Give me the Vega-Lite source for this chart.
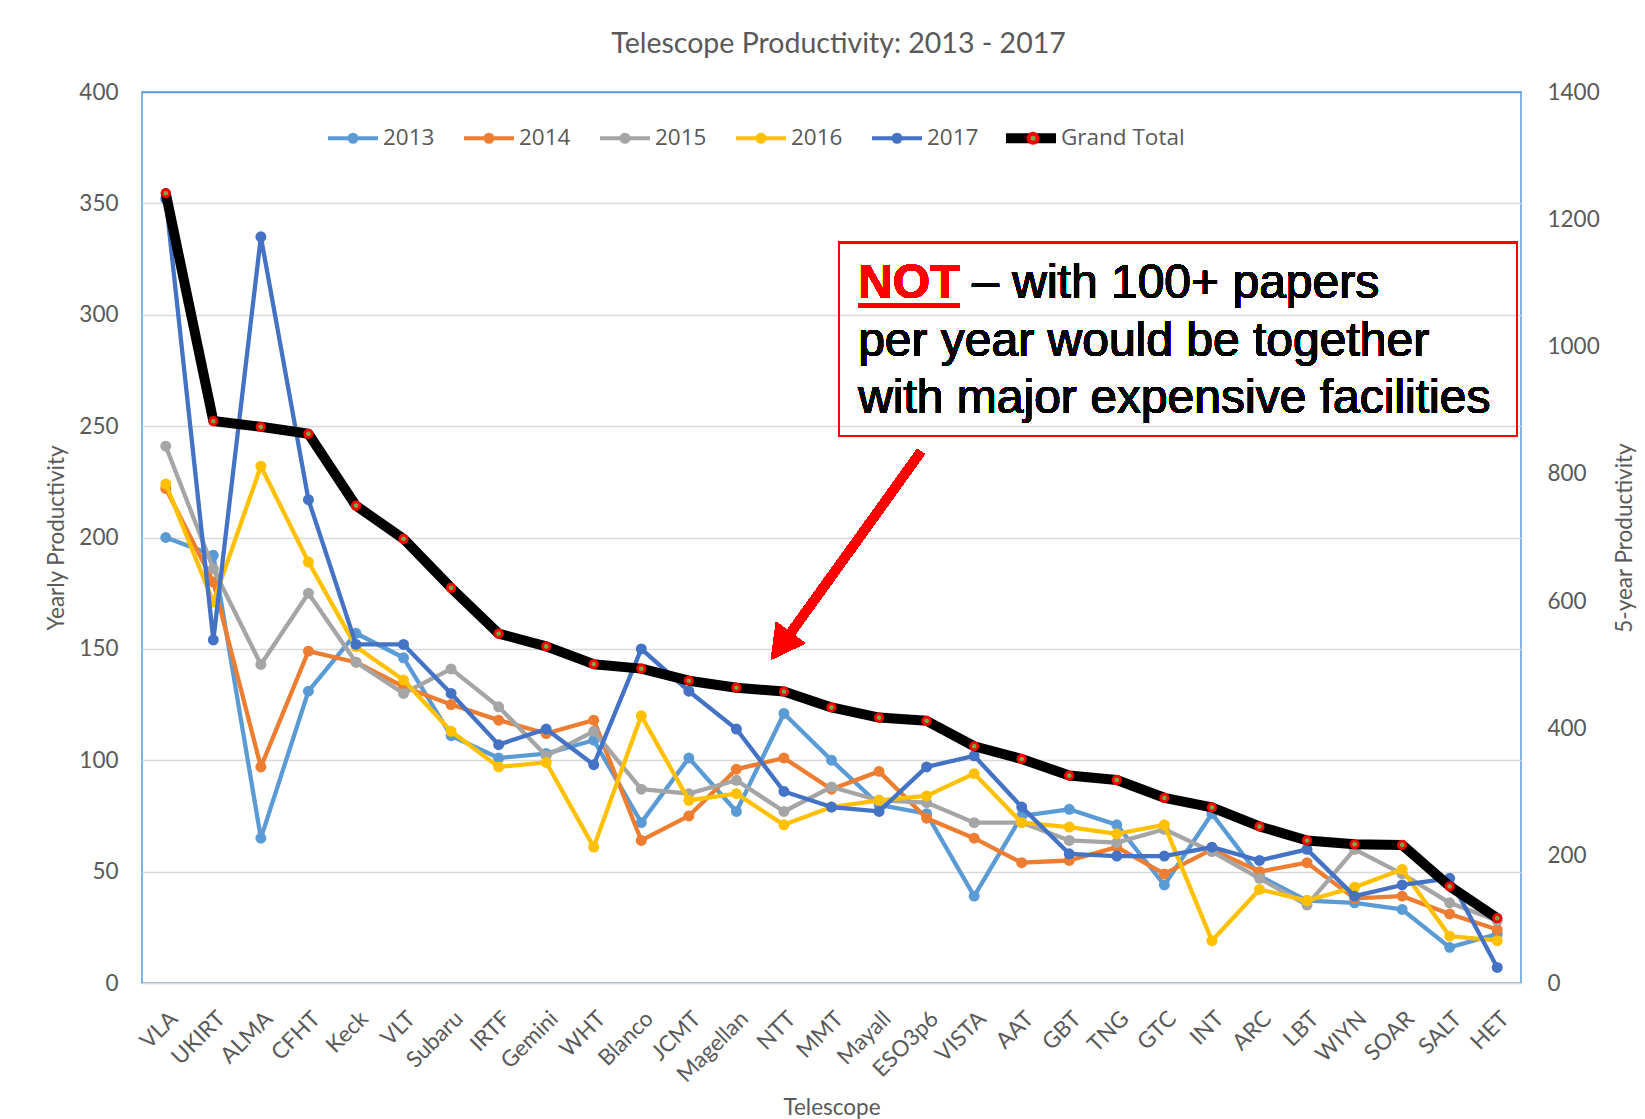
{
  "$schema": "https://vega.github.io/schema/vega-lite/v6.json",
  "width": 1379,
  "height": 891,
  "autosize": {"type": "none"},
  "padding": {"left": 142, "top": 92, "right": 124, "bottom": 136},
  "background": "white",
  "title": {"text": "Telescope Productivity: 2013 - 2017", "font": "Lato", "fontSize": 28.5, "fontWeight": "normal", "color": "#595959", "anchor": "middle", "offset": 23, "dx": 7},
  "config": {
    "font": "Lato",
    "view": {"stroke": "#5B9BD5", "strokeWidth": 1.5}
  },
  "data": {"values": [
    {"Telescope":"VLA","Series":"2013","Value":200},{"Telescope":"VLA","Series":"2014","Value":222},{"Telescope":"VLA","Series":"2015","Value":241},{"Telescope":"VLA","Series":"2016","Value":224},{"Telescope":"VLA","Series":"2017","Value":352},{"Telescope":"VLA","Series":"Grand Total","Value":1241},
    {"Telescope":"UKIRT","Series":"2013","Value":192},{"Telescope":"UKIRT","Series":"2014","Value":180},{"Telescope":"UKIRT","Series":"2015","Value":186},{"Telescope":"UKIRT","Series":"2016","Value":171},{"Telescope":"UKIRT","Series":"2017","Value":154},{"Telescope":"UKIRT","Series":"Grand Total","Value":883},
    {"Telescope":"ALMA","Series":"2013","Value":65},{"Telescope":"ALMA","Series":"2014","Value":97},{"Telescope":"ALMA","Series":"2015","Value":143},{"Telescope":"ALMA","Series":"2016","Value":232},{"Telescope":"ALMA","Series":"2017","Value":335},{"Telescope":"ALMA","Series":"Grand Total","Value":874},
    {"Telescope":"CFHT","Series":"2013","Value":131},{"Telescope":"CFHT","Series":"2014","Value":149},{"Telescope":"CFHT","Series":"2015","Value":175},{"Telescope":"CFHT","Series":"2016","Value":189},{"Telescope":"CFHT","Series":"2017","Value":217},{"Telescope":"CFHT","Series":"Grand Total","Value":863},
    {"Telescope":"Keck","Series":"2013","Value":157},{"Telescope":"Keck","Series":"2014","Value":144},{"Telescope":"Keck","Series":"2015","Value":144},{"Telescope":"Keck","Series":"2016","Value":151},{"Telescope":"Keck","Series":"2017","Value":152},{"Telescope":"Keck","Series":"Grand Total","Value":750},
    {"Telescope":"VLT","Series":"2013","Value":146},{"Telescope":"VLT","Series":"2014","Value":133},{"Telescope":"VLT","Series":"2015","Value":130},{"Telescope":"VLT","Series":"2016","Value":136},{"Telescope":"VLT","Series":"2017","Value":152},{"Telescope":"VLT","Series":"Grand Total","Value":698},
    {"Telescope":"Subaru","Series":"2013","Value":111},{"Telescope":"Subaru","Series":"2014","Value":125},{"Telescope":"Subaru","Series":"2015","Value":141},{"Telescope":"Subaru","Series":"2016","Value":113},{"Telescope":"Subaru","Series":"2017","Value":130},{"Telescope":"Subaru","Series":"Grand Total","Value":621},
    {"Telescope":"IRTF","Series":"2013","Value":101},{"Telescope":"IRTF","Series":"2014","Value":118},{"Telescope":"IRTF","Series":"2015","Value":124},{"Telescope":"IRTF","Series":"2016","Value":97},{"Telescope":"IRTF","Series":"2017","Value":107},{"Telescope":"IRTF","Series":"Grand Total","Value":549},
    {"Telescope":"Gemini","Series":"2013","Value":103},{"Telescope":"Gemini","Series":"2014","Value":112},{"Telescope":"Gemini","Series":"2015","Value":102},{"Telescope":"Gemini","Series":"2016","Value":99},{"Telescope":"Gemini","Series":"2017","Value":114},{"Telescope":"Gemini","Series":"Grand Total","Value":529},
    {"Telescope":"WHT","Series":"2013","Value":109},{"Telescope":"WHT","Series":"2014","Value":118},{"Telescope":"WHT","Series":"2015","Value":113},{"Telescope":"WHT","Series":"2016","Value":61},{"Telescope":"WHT","Series":"2017","Value":98},{"Telescope":"WHT","Series":"Grand Total","Value":501},
    {"Telescope":"Blanco","Series":"2013","Value":72},{"Telescope":"Blanco","Series":"2014","Value":64},{"Telescope":"Blanco","Series":"2015","Value":87},{"Telescope":"Blanco","Series":"2016","Value":120},{"Telescope":"Blanco","Series":"2017","Value":150},{"Telescope":"Blanco","Series":"Grand Total","Value":494},
    {"Telescope":"JCMT","Series":"2013","Value":101},{"Telescope":"JCMT","Series":"2014","Value":75},{"Telescope":"JCMT","Series":"2015","Value":85},{"Telescope":"JCMT","Series":"2016","Value":82},{"Telescope":"JCMT","Series":"2017","Value":131},{"Telescope":"JCMT","Series":"Grand Total","Value":475},
    {"Telescope":"Magellan","Series":"2013","Value":77},{"Telescope":"Magellan","Series":"2014","Value":96},{"Telescope":"Magellan","Series":"2015","Value":91},{"Telescope":"Magellan","Series":"2016","Value":85},{"Telescope":"Magellan","Series":"2017","Value":114},{"Telescope":"Magellan","Series":"Grand Total","Value":464},
    {"Telescope":"NTT","Series":"2013","Value":121},{"Telescope":"NTT","Series":"2014","Value":101},{"Telescope":"NTT","Series":"2015","Value":77},{"Telescope":"NTT","Series":"2016","Value":71},{"Telescope":"NTT","Series":"2017","Value":86},{"Telescope":"NTT","Series":"Grand Total","Value":458},
    {"Telescope":"MMT","Series":"2013","Value":100},{"Telescope":"MMT","Series":"2014","Value":87},{"Telescope":"MMT","Series":"2015","Value":88},{"Telescope":"MMT","Series":"2016","Value":79},{"Telescope":"MMT","Series":"2017","Value":79},{"Telescope":"MMT","Series":"Grand Total","Value":433},
    {"Telescope":"Mayall","Series":"2013","Value":80},{"Telescope":"Mayall","Series":"2014","Value":95},{"Telescope":"Mayall","Series":"2015","Value":82},{"Telescope":"Mayall","Series":"2016","Value":82},{"Telescope":"Mayall","Series":"2017","Value":77},{"Telescope":"Mayall","Series":"Grand Total","Value":417},
    {"Telescope":"ESO3p6","Series":"2013","Value":76},{"Telescope":"ESO3p6","Series":"2014","Value":74},{"Telescope":"ESO3p6","Series":"2015","Value":81},{"Telescope":"ESO3p6","Series":"2016","Value":84},{"Telescope":"ESO3p6","Series":"2017","Value":97},{"Telescope":"ESO3p6","Series":"Grand Total","Value":412},
    {"Telescope":"VISTA","Series":"2013","Value":39},{"Telescope":"VISTA","Series":"2014","Value":65},{"Telescope":"VISTA","Series":"2015","Value":72},{"Telescope":"VISTA","Series":"2016","Value":94},{"Telescope":"VISTA","Series":"2017","Value":102},{"Telescope":"VISTA","Series":"Grand Total","Value":372},
    {"Telescope":"AAT","Series":"2013","Value":75},{"Telescope":"AAT","Series":"2014","Value":54},{"Telescope":"AAT","Series":"2015","Value":72},{"Telescope":"AAT","Series":"2016","Value":72},{"Telescope":"AAT","Series":"2017","Value":79},{"Telescope":"AAT","Series":"Grand Total","Value":352},
    {"Telescope":"GBT","Series":"2013","Value":78},{"Telescope":"GBT","Series":"2014","Value":55},{"Telescope":"GBT","Series":"2015","Value":64},{"Telescope":"GBT","Series":"2016","Value":70},{"Telescope":"GBT","Series":"2017","Value":58},{"Telescope":"GBT","Series":"Grand Total","Value":326},
    {"Telescope":"TNG","Series":"2013","Value":71},{"Telescope":"TNG","Series":"2014","Value":61},{"Telescope":"TNG","Series":"2015","Value":63},{"Telescope":"TNG","Series":"2016","Value":67},{"Telescope":"TNG","Series":"2017","Value":57},{"Telescope":"TNG","Series":"Grand Total","Value":319},
    {"Telescope":"GTC","Series":"2013","Value":44},{"Telescope":"GTC","Series":"2014","Value":49},{"Telescope":"GTC","Series":"2015","Value":69},{"Telescope":"GTC","Series":"2016","Value":71},{"Telescope":"GTC","Series":"2017","Value":57},{"Telescope":"GTC","Series":"Grand Total","Value":291},
    {"Telescope":"INT","Series":"2013","Value":76},{"Telescope":"INT","Series":"2014","Value":60},{"Telescope":"INT","Series":"2015","Value":59},{"Telescope":"INT","Series":"2016","Value":19},{"Telescope":"INT","Series":"2017","Value":61},{"Telescope":"INT","Series":"Grand Total","Value":276},
    {"Telescope":"ARC","Series":"2013","Value":48},{"Telescope":"ARC","Series":"2014","Value":50},{"Telescope":"ARC","Series":"2015","Value":47},{"Telescope":"ARC","Series":"2016","Value":42},{"Telescope":"ARC","Series":"2017","Value":55},{"Telescope":"ARC","Series":"Grand Total","Value":246},
    {"Telescope":"LBT","Series":"2013","Value":37},{"Telescope":"LBT","Series":"2014","Value":54},{"Telescope":"LBT","Series":"2015","Value":35},{"Telescope":"LBT","Series":"2016","Value":37},{"Telescope":"LBT","Series":"2017","Value":60},{"Telescope":"LBT","Series":"Grand Total","Value":224},
    {"Telescope":"WIYN","Series":"2013","Value":36},{"Telescope":"WIYN","Series":"2014","Value":38},{"Telescope":"WIYN","Series":"2015","Value":60},{"Telescope":"WIYN","Series":"2016","Value":43},{"Telescope":"WIYN","Series":"2017","Value":39},{"Telescope":"WIYN","Series":"Grand Total","Value":218},
    {"Telescope":"SOAR","Series":"2013","Value":33},{"Telescope":"SOAR","Series":"2014","Value":39},{"Telescope":"SOAR","Series":"2015","Value":49},{"Telescope":"SOAR","Series":"2016","Value":51},{"Telescope":"SOAR","Series":"2017","Value":44},{"Telescope":"SOAR","Series":"Grand Total","Value":217},
    {"Telescope":"SALT","Series":"2013","Value":16},{"Telescope":"SALT","Series":"2014","Value":31},{"Telescope":"SALT","Series":"2015","Value":36},{"Telescope":"SALT","Series":"2016","Value":21},{"Telescope":"SALT","Series":"2017","Value":47},{"Telescope":"SALT","Series":"Grand Total","Value":152},
    {"Telescope":"HET","Series":"2013","Value":22},{"Telescope":"HET","Series":"2014","Value":24},{"Telescope":"HET","Series":"2015","Value":28},{"Telescope":"HET","Series":"2016","Value":19},{"Telescope":"HET","Series":"2017","Value":7},{"Telescope":"HET","Series":"Grand Total","Value":102}
  ]},
  "layer": [
    {
      "encoding": {
        "x": {"field": "Telescope", "type": "nominal",
          "scale": {"domain": ["VLA","UKIRT","ALMA","CFHT","Keck","VLT","Subaru","IRTF","Gemini","WHT","Blanco","JCMT","Magellan","NTT","MMT","Mayall","ESO3p6","VISTA","AAT","GBT","TNG","GTC","INT","ARC","LBT","WIYN","SOAR","SALT","HET"]},
          "axis": {"labelAngle": -45, "labelFont": "Lato", "labelFontSize": 22.5, "labelColor": "#595959", "ticks": false, "domain": true, "domainColor": "#D9D9D9", "domainWidth": 1.5, "labelPadding": 24, "title": "Telescope", "titleFont": "Lato", "titleFontSize": 22.5, "titleFontWeight": "normal", "titleColor": "#595959", "titlePadding": 10}},
        "y": {"field": "Value", "type": "quantitative",
          "scale": {"domain": [0, 400], "nice": false},
          "axis": {"orient": "left", "values": [0,50,100,150,200,250,300,350,400], "grid": true, "gridColor": {"condition": {"test": "datum.value === 400", "value": "#5B9BD5"}, "value": "#D9D9D9"}, "gridWidth": 1.5, "domain": false, "ticks": false, "labelFont": "Lato", "labelFontSize": 22.5, "labelColor": "#595959", "labelPadding": 24, "title": "Yearly Productivity", "titleFont": "Lato", "titleFontSize": 22.5, "titleFontWeight": "normal", "titleColor": "#595959", "titlePadding": 10}},
        "color": {"field": "Series", "type": "nominal",
          "scale": {"domain": ["2013","2014","2015","2016","2017","Grand Total"], "range": ["#5B9BD5","#ED7D31","#A5A5A5","#FFC000","#4472C4","#000000"]},
          "legend": {"orient": "none", "legendX": 184, "legendY": 19, "direction": "horizontal", "title": null, "padding": 0, "zindex": 1,
            "symbolSize": 2500, "symbolStrokeWidth": 4, "labelFont": "Open Sans", "labelFontSize": 22.5, "labelColor": "#595959", "labelOffset": 3, "columnPadding": 21,
            "encode": {"symbols": {"update": {
              "shape": {"signal": "datum.value === 'Grand Total' ? 'M-0.92,-0.12L0.92,-0.12L0.92,0.12L-0.92,0.12Z' : 'M-1,0L1,0M-0.14,0A0.14,0.14 0 1,0 0.14,0A0.14,0.14 0 1,0 -0.14,0Z'"},
              "size": {"value": 2500},
              "strokeWidth": {"value": 4},
              "stroke": {"signal": "scale('color', datum.value)"},
              "fill": {"signal": "scale('color', datum.value)"},
              "opacity": {"value": 1}}}}}}
      },
      "layer": [
        {"transform": [{"filter": {"field": "Series", "equal": "2013"}}], "layer": [
          {"mark": {"type": "line", "strokeWidth": 4.3, "strokeJoin": "round"}},
          {"mark": {"type": "point", "filled": true, "size": 120, "opacity": 1}}]},
        {"transform": [{"filter": {"field": "Series", "equal": "2014"}}], "layer": [
          {"mark": {"type": "line", "strokeWidth": 4.3, "strokeJoin": "round"}},
          {"mark": {"type": "point", "filled": true, "size": 120, "opacity": 1}}]},
        {"transform": [{"filter": {"field": "Series", "equal": "2015"}}], "layer": [
          {"mark": {"type": "line", "strokeWidth": 4.3, "strokeJoin": "round"}},
          {"mark": {"type": "point", "filled": true, "size": 120, "opacity": 1}}]},
        {"transform": [{"filter": {"field": "Series", "equal": "2016"}}], "layer": [
          {"mark": {"type": "line", "strokeWidth": 4.3, "strokeJoin": "round"}},
          {"mark": {"type": "point", "filled": true, "size": 120, "opacity": 1}}]},
        {"transform": [{"filter": {"field": "Series", "equal": "2017"}}], "layer": [
          {"mark": {"type": "line", "strokeWidth": 4.3, "strokeJoin": "round"}},
          {"mark": {"type": "point", "filled": true, "size": 120, "opacity": 1}}]}
      ]
    },
    {
      "transform": [{"filter": {"field": "Series", "equal": "Grand Total"}}],
      "encoding": {
        "x": {"field": "Telescope", "type": "nominal",
          "scale": {"domain": ["VLA","UKIRT","ALMA","CFHT","Keck","VLT","Subaru","IRTF","Gemini","WHT","Blanco","JCMT","Magellan","NTT","MMT","Mayall","ESO3p6","VISTA","AAT","GBT","TNG","GTC","INT","ARC","LBT","WIYN","SOAR","SALT","HET"]},
          "axis": null},
        "y": {"field": "Value", "type": "quantitative",
          "scale": {"domain": [0, 1400], "nice": false},
          "axis": {"orient": "right", "values": [0,200,400,600,800,1000,1200,1400], "format": "d", "grid": false, "domain": false, "ticks": false, "labelFont": "Lato", "labelFontSize": 22.5, "labelColor": "#595959", "labelPadding": 26, "title": "5-year Productivity", "titleAngle": 270, "titleFont": "Lato", "titleFontSize": 22.5, "titleFontWeight": "normal", "titleColor": "#595959", "titlePadding": 37}}
      },
      "layer": [
        {"mark": {"type": "line", "strokeWidth": 10, "strokeJoin": "round", "strokeCap": "round"},
         "encoding": {"color": {"field": "Series", "type": "nominal"}}},
        {"mark": {"type": "point", "filled": true, "fill": "#70AD47", "stroke": "#FF0000", "strokeWidth": 2.8, "size": 1700, "opacity": 1},
         "encoding": {"shape": {"field": "Series", "type": "nominal",
           "scale": {"domain": ["2013","2014","2015","2016","2017","Grand Total","zz"], "range": ["M-1,0M1,0","M-1,0M1,0","M-1,0M1,0","M-1,0M1,0","M-1,0M1,0","M-1,0M1,0M-0.18,0A0.18,0.18 0 1,0 0.18,0A0.18,0.18 0 1,0 -0.18,0Z","M-1,0M1,0"]},
           "legend": {"orient": "none", "legendX": 184, "legendY": 19, "direction": "horizontal", "title": null, "padding": 0, "zindex": 2,
             "symbolSize": 2500, "symbolStrokeWidth": 4, "labelFont": "Open Sans", "labelFontSize": 22.5, "labelOpacity": 0, "labelOffset": 3, "columnPadding": 21,
             "encode": {"symbols": {"update": {
               "size": {"value": 2500},
               "fill": {"value": "#70AD47"},
               "stroke": {"value": "#FF0000"},
               "strokeWidth": {"value": 4},
               "opacity": {"value": 1}}}}}}}}
      ]
    },
    {
      "layer": [
        {"mark": {"type": "rect", "fill": "transparent", "stroke": "#FF0000", "strokeWidth": 1.5},
         "encoding": {
           "x": {"datum": 14.66, "type": "quantitative", "scale": {"domain": [0, 29], "nice": false, "zero": false}, "axis": null},
           "x2": {"datum": 28.92},
           "y": {"datum": 332.4, "type": "quantitative", "scale": {"domain": [0, 400], "nice": false}, "axis": null},
           "y2": {"datum": 245.7}}},
        {"mark": {"type": "text", "font": "Liberation Sans", "fontSize": 48, "fontWeight": "bold", "fill": "#FF0000", "align": "left", "baseline": "alphabetic"},
         "encoding": {
           "x": {"datum": 15.06, "type": "quantitative"},
           "y": {"datum": 307.3, "type": "quantitative"},
           "text": {"value": "NOT"}}},
        {"mark": {"type": "rule", "color": "#FF0000", "strokeWidth": 4},
         "encoding": {
           "x": {"datum": 15.06, "type": "quantitative"},
           "x2": {"datum": 17.2},
           "y": {"datum": 304.2, "type": "quantitative"}}},
        {"mark": {"type": "text", "font": "Liberation Sans", "fontSize": 48, "fill": "#000000", "align": "left", "baseline": "alphabetic"},
         "encoding": {
           "x": {"datum": 17.46, "type": "quantitative"},
           "y": {"datum": 307.3, "type": "quantitative"},
           "text": {"value": "– with 100+ papers"}}},
        {"mark": {"type": "text", "font": "Liberation Sans", "fontSize": 48, "fill": "#000000", "align": "left", "baseline": "alphabetic"},
         "encoding": {
           "x": {"datum": 15.06, "type": "quantitative"},
           "y": {"datum": 281.6, "type": "quantitative"},
           "text": {"value": "per year would be together"}}},
        {"mark": {"type": "text", "font": "Liberation Sans", "fontSize": 48, "fill": "#000000", "align": "left", "baseline": "alphabetic"},
         "encoding": {
           "x": {"datum": 15.06, "type": "quantitative"},
           "y": {"datum": 256.0, "type": "quantitative"},
           "text": {"value": "with major expensive facilities"}}},
        {"mark": {"type": "rule", "color": "#FF0000", "strokeWidth": 9, "strokeCap": "butt"},
         "encoding": {
           "x": {"datum": 16.38, "type": "quantitative"},
           "y": {"datum": 238.5, "type": "quantitative"},
           "x2": {"datum": 13.54},
           "y2": {"datum": 154.1}}},
        {"mark": {"type": "point", "shape": "M-1,-0.9L1,-0.9L0,0.95Z", "size": 1296, "angle": 36, "filled": true, "fill": "#FF0000", "strokeWidth": 0, "opacity": 1},
         "encoding": {
           "x": {"datum": 13.44, "type": "quantitative"},
           "y": {"datum": 151.4, "type": "quantitative"}}}
      ]
    }
  ],
  "resolve": {"scale": {"x": "independent", "y": "independent"}}
}
